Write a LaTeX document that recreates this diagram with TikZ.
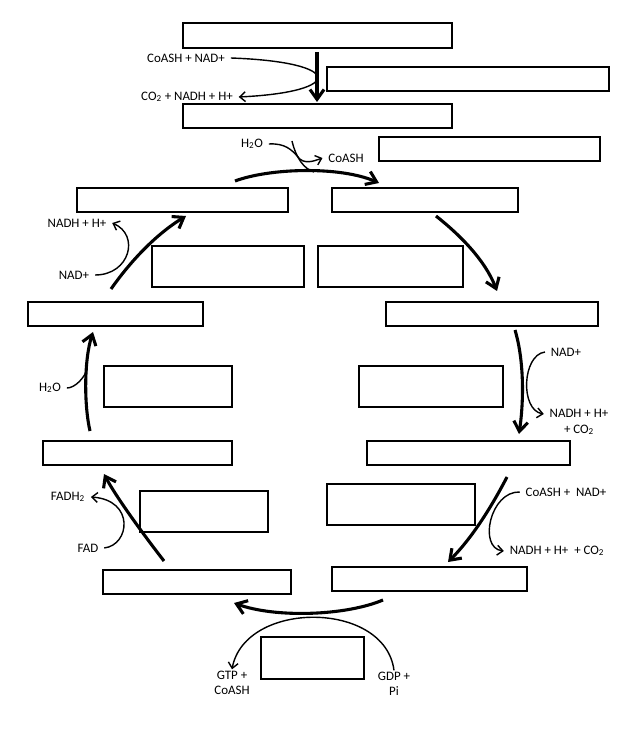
\documentclass[tikz,border=0pt]{standalone}
\usepackage{fontspec}
\setmainfont{Carlito}
\usepackage{tikz}
\usetikzlibrary{arrows.meta}

\begin{document}
\begin{tikzpicture}[x=0.025cm, y=-0.025cm,
    blank/.style 2 args={rectangle, draw, line width=0.8pt, inner sep=0pt, minimum width=#1*0.025cm, minimum height=#2*0.025cm},
    lbl/.style={font=\fontsize{9.2}{11}\selectfont, inner xsep=4pt, inner ysep=1pt, align=center},
    main/.style={-{Straight Barb[length=7pt, width=10pt]}, line width=2.2pt},
    side/.style={line width=1pt},
    sidearr/.style={side, -{Straight Barb[length=4pt, width=7pt]}}]
            \useasboundingbox (0,0) rectangle (620,740);

            % Boxes
            \node[blank={269}{25}] (b1) at (317.5, 35.5) {};
            \node[blank={282}{24}] (b2) at (468, 79) {};
            \node[blank={269}{24}] (b3) at (317.5, 116) {};
            \node[blank={221}{24}] (b4) at (489.5, 149) {};
            \node[blank={211}{24}] (b5) at (182.5, 200) {};
            \node[blank={186}{24}] (b6) at (425, 200) {};
            \node[blank={152}{41}] (b7) at (228, 266.5) {};
            \node[blank={145}{41}] (b8) at (390.5, 266.5) {};
            \node[blank={175}{24}] (b9) at (115.5, 314) {};
            \node[blank={212}{24}] (b10) at (492, 314) {};
            \node[blank={128}{41}] (b11) at (168, 386.5) {};
            \node[blank={144}{41}] (b12) at (431, 386.5) {};
            \node[blank={189}{24}] (b13) at (137.5, 453) {};
            \node[blank={203}{24}] (b14) at (468.5, 453) {};
            \node[blank={128}{41}] (b15) at (204, 511.5) {};
            \node[blank={148}{41}] (b16) at (401, 504.5) {};
            \node[blank={188}{24}] (b17) at (197, 582) {};
            \node[blank={195}{24}] (b18) at (429.5, 579) {};
            \node[blank={103}{42}] (b19) at (312.5, 658) {};

            % Labels
            \node[lbl] (coashnad) at (186, 58) {CoASH + NAD+};
            \node[lbl] (co2nadh) at (187, 97) {CO\textsubscript{2} + NADH + H+};
            \node[lbl] (water1) at (252, 144) {H\textsubscript{2}O};
            \node[lbl] (coash1) at (346, 158) {CoASH};
            \node[lbl] (nadh1) at (77, 223) {NADH + H+};
            \node[lbl] (nad1) at (74, 275) {NAD+};
            \node[lbl] (water2) at (50, 388) {H\textsubscript{2}O};
            \node[lbl] (fadh) at (68, 497) {FADH\textsubscript{2}};
            \node[lbl] (fad) at (88, 548) {FAD};
            \node[lbl] (nad2) at (566, 352) {NAD+};
            \node[lbl] (nadh2) at (579, 422) {NADH + H+\\+ CO\textsubscript{2}};
            \node[lbl] (coashnad2) at (566, 492) {CoASH +\ \ NAD+};
            \node[lbl] (nadh3) at (557, 551) {NADH + H+\ \ + CO\textsubscript{2}};
            \node[lbl] (gtp) at (232, 683) {GTP +\\CoASH};
            \node[lbl] (gdp) at (394, 684) {GDP +\\Pi};

            % Free ends of the cycle arrows
            \coordinate (s1) at (317, 52);   \coordinate (e1) at (317, 102);
            \coordinate (s2) at (235, 181);  \coordinate (e2) at (379, 183);
            \coordinate (s3) at (436, 216);  \coordinate (e3) at (497, 291);
            \coordinate (s4) at (515, 330);  \coordinate (e4) at (519, 434);
            \coordinate (s5) at (507, 477);  \coordinate (e5) at (448, 562);
            \coordinate (s6) at (383, 600);  \coordinate (e6) at (234, 603);
            \coordinate (s7) at (164, 561);  \coordinate (e7) at (104, 474);
            \coordinate (s8) at (90, 431);   \coordinate (e8) at (93, 332);
            \coordinate (s9) at (111, 289);  \coordinate (e9) at (186, 216);
            \coordinate (w1) at (292, 141);  \coordinate (w2) at (314, 172);
            \coordinate (w3) at (87, 370);

            % Cycle
            \draw[main] (s1) -- (e1);
            \draw[main] (s2) .. controls (270,168) and (340,166) .. (e2);
            \draw[main] (s3) .. controls (460,235) and (485,260) .. (e3);
            \draw[main] (s4) .. controls (524,360) and (524,400) .. (e4);
            \draw[main] (s5) .. controls (495,500) and (475,535) .. (e5);
            \draw[main] (s6) .. controls (345,616) and (275,618) .. (e6);
            \draw[main] (s7) .. controls (140,530) and (115,495) .. (e7);
            \draw[main] (s8) .. controls (84,405) and (84,360) .. (e8);
            \draw[main] (s9) .. controls (130,262) and (155,235) .. (e9);

            % Side reactions
            \draw[sidearr] (coashnad.east) .. controls (345,62) and (345,92) .. (co2nadh.east);
            \draw[side] (w1) .. controls (296,158) and (304,169) .. (w2);
            \draw[sidearr] (water1.east) .. controls (285,143) and (292,150) .. (298,157) .. controls (304,165) and (314,161) .. (coash1.west);
            \draw[sidearr] (nad1.east) .. controls (130,275) and (140,235) .. (nadh1.east);
            \draw[side] (water2.east) .. controls (75,388) and (84,378) .. (w3);
            \draw[sidearr] (fad.east) .. controls (130,545) and (135,500) .. (fadh.east);
            \draw[sidearr] (nad2.west) .. controls (522,355) and (520,410) .. (nadh2.west |- 0,414);
            \draw[sidearr] (coashnad2.west) .. controls (490,491) and (478,548) .. (nadh3.west);
            \draw[sidearr] (gdp.north) .. controls (385,600) and (245,600) .. (gtp.north);
        \end{tikzpicture}
\end{document}
